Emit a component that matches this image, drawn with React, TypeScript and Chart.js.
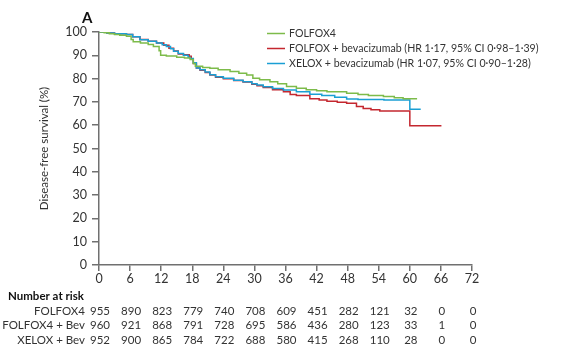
import { useEffect, useRef } from "react";
import { Chart, registerables } from "chart.js";

Chart.register(...registerables);

// ---- Data ----
const xTicks = [0, 6, 12, 18, 24, 30, 36, 42, 48, 54, 60, 66, 72];

const folfox4Months = [0, 1, 2, 3, 4, 5.3, 6.2, 6.6, 8, 9.5, 10.5, 11.6, 11.9, 13, 15, 16.5, 17.6, 18.2, 18.6, 20, 21.4, 23, 25.3, 27, 28.5, 29.7, 31, 33, 34.5, 36.2, 38.1, 40, 42, 44, 47.8, 50, 52, 54.9, 57, 58.7, 61.4];
const folfox4Survival = [100, 99.7, 99.3, 98.9, 98.6, 98.2, 96.8, 95.8, 95.3, 94.6, 93.8, 92, 90, 89.7, 89.2, 88.8, 88.2, 86.5, 85.3, 84.8, 84.4, 83.8, 83, 82.3, 81.5, 80.2, 79.5, 78.7, 77.8, 76.6, 75.9, 75.2, 74.8, 74.4, 73.7, 73.2, 72.8, 72.3, 71.8, 71.4, 71.4];

const folfoxBevMonths = [0, 1.5, 3, 5.3, 6.5, 7.9, 9.5, 11.1, 12.5, 13.5, 14.4, 15.3, 16.3, 17.4, 17.8, 18.2, 18.8, 19.5, 20.5, 21.4, 22.5, 24, 26, 27.8, 29.5, 30.5, 31.7, 33.5, 35.6, 36.9, 38.1, 40.7, 42.5, 44, 46, 47.8, 49.7, 51, 52.5, 54.2, 60, 66.1];
const folfoxBevSurvival = [100, 99.6, 99.2, 98.9, 98, 96.8, 96, 95.3, 94.3, 93, 91.8, 90.6, 90.2, 89.6, 88.5, 86.5, 84.6, 83.6, 82.6, 81.5, 80.6, 79.9, 79.2, 78.5, 77.6, 76.9, 76.2, 75.2, 74.4, 73.2, 72.8, 71.4, 70.8, 70.3, 69.8, 69.4, 68, 67.2, 66.6, 66.1, 59.8, 59.8];

const xeloxBevMonths = [0, 1.5, 3, 5.3, 6.5, 7.9, 9.5, 11.1, 12.2, 13, 13.8, 14.4, 15.3, 16.3, 17.2, 17.6, 18.2, 18.8, 19.5, 20.5, 21.4, 22.5, 24, 26, 27.8, 29.5, 30.5, 31.7, 33.5, 35.6, 38.1, 40.7, 43, 45.5, 47.8, 50, 55, 60, 62.1];
const xeloxBevSurvival = [100, 99.6, 99.2, 98.9, 98, 96.7, 96, 95.3, 94.5, 93.8, 92.8, 91.7, 90.8, 90, 89.2, 88.6, 86.8, 84.6, 83.8, 82.8, 81.7, 80.8, 80.1, 79.3, 78.7, 77.8, 77.2, 76.5, 75.8, 75.1, 74.4, 73.3, 72.8, 72, 71.2, 71, 70.8, 66.8, 66.8];

const riskLabels = ["FOLFOX4", "FOLFOX4 + Bev", "XELOX + Bev"];
const riskFolfox4 = [955, 890, 823, 779, 740, 708, 609, 451, 282, 121, 32, 0, 0];
const riskFolfoxBev = [960, 921, 868, 791, 728, 695, 586, 436, 280, 123, 33, 1, 0];
const riskXeloxBev = [952, 900, 865, 784, 722, 688, 580, 415, 268, 110, 28, 0, 0];

const legendLabels = [
  "FOLFOX4",
  "FOLFOX + bevacizumab (HR 1·17, 95% CI 0·98–1·39)",
  "XELOX + bevacizumab (HR 1·07, 95% CI 0·90–1·28)",
];
const colors = ["#7dbb4a", "#c4272f", "#1a9fd4"];

const FONT = "Lato";
const TEXT = "#333333";
const AXIS = "#707070";

const toPoints = (xs: number[], ys: number[]) => xs.map((x, i) => ({ x, y: ys[i] }));

export default function App() {
  const ref = useRef<HTMLCanvasElement | null>(null);

  useEffect(() => {
    if (!ref.current) return;

    const overlay = {
      id: "overlay",
      afterDraw(chart: any) {
        const ctx = chart.ctx as CanvasRenderingContext2D;
        const xs = chart.scales.x;
        const area = chart.chartArea;
        ctx.save();
        // Panel letter
        ctx.fillStyle = "#111";
        ctx.font = `bold 15px ${FONT}`;
        ctx.textAlign = "left";
        ctx.textBaseline = "middle";
        ctx.fillText("A", 82, 18);

        // Y title
        ctx.save();
        ctx.translate(44, (area.top + area.bottom) / 2);
        ctx.rotate(-Math.PI / 2);
        ctx.textAlign = "center";
        ctx.textBaseline = "middle";
        ctx.fillStyle = TEXT;
        ctx.font = `11.5px ${FONT}`;
        ctx.fillText("Disease-free survival (%)", 0, 0);
        ctx.restore();

        // Legend
        ctx.font = `10.6px ${FONT}`;
        ctx.textBaseline = "middle";
        legendLabels.forEach((lab, i) => {
          const y = 33.5 + i * 15;
          ctx.strokeStyle = colors[i];
          ctx.lineWidth = 1.5;
          ctx.beginPath();
          ctx.moveTo(267, y);
          ctx.lineTo(285, y);
          ctx.stroke();
          ctx.fillStyle = TEXT;
          ctx.textAlign = "left";
          ctx.fillText(lab, 289, y);
        });

        // Number at risk table
        ctx.fillStyle = "#111";
        ctx.font = `bold 11.5px ${FONT}`;
        ctx.textAlign = "left";
        ctx.fillText("Number at risk", 8, 296);
        ctx.font = `11.5px ${FONT}`;
        ctx.fillStyle = TEXT;
        const rows = [riskFolfox4, riskFolfoxBev, riskXeloxBev];
        rows.forEach((row, r) => {
          const y = 311 + r * 14.5;
          ctx.textAlign = "right";
          ctx.fillText(riskLabels[r], 85, y);
          ctx.textAlign = "center";
          row.forEach((v, i) => {
            ctx.fillText(String(v), xs.getPixelForValue(xTicks[i]) + 1, y);
          });
        });
        ctx.restore();
      },
    };

    const mk = (label: string, xs: number[], ys: number[], color: string) => ({
      label,
      data: toPoints(xs, ys),
      borderColor: color,
      backgroundColor: color,
      borderWidth: 1.5,
      pointRadius: 0,
      stepped: "before" as const,
      fill: false,
    });

    const chart = new Chart(ref.current, {
      type: "line",
      data: {
        datasets: [
          mk(legendLabels[0], folfox4Months, folfox4Survival, colors[0]),
          mk(legendLabels[2], xeloxBevMonths, xeloxBevSurvival, colors[2]),
          mk(legendLabels[1], folfoxBevMonths, folfoxBevSurvival, colors[1]),
        ],
      },
      options: {
        responsive: false,
        animation: false,
        layout: { padding: { left: 0, top: 32, right: 102, bottom: 62 } },
        plugins: { legend: { display: false }, tooltip: { enabled: false } },
        scales: {
          x: {
            type: "linear",
            min: 0,
            max: 72,
            afterFit: (s: any) => {
              s.height = 20;
            },
            afterBuildTicks: (s: any) => {
              s.ticks = xTicks.map((v) => ({ value: v }));
            },
            ticks: {
              color: TEXT,
              font: { family: FONT, size: 12.5 },
              padding: 0,
              maxRotation: 0,
              autoSkip: false,
            },
            grid: {
              display: true,
              drawOnChartArea: false,
              drawTicks: true,
              tickLength: 6,
              color: AXIS,
              lineWidth: 1.5,
            },
            border: { display: true, color: AXIS, width: 1.5 },
          },
          y: {
            type: "linear",
            min: 0,
            max: 100,
            afterFit: (s: any) => {
              s.width = 99;
            },
            ticks: {
              stepSize: 10,
              color: TEXT,
              font: { family: FONT, size: 12.5 },
              padding: 5,
            },
            grid: {
              display: true,
              drawOnChartArea: false,
              drawTicks: true,
              tickLength: 7,
              color: AXIS,
              lineWidth: 1.5,
            },
            border: { display: true, color: AXIS, width: 1.5 },
          },
        },
      },
      plugins: [overlay],
    });

    return () => chart.destroy();
  }, []);

  return (
    <div style={{ position: "absolute", left: 0, top: 0, width: 574, height: 347, background: "#fff" }}>
      <canvas ref={ref} width={574} height={347} style={{ display: "block" }} />
    </div>
  );
}
